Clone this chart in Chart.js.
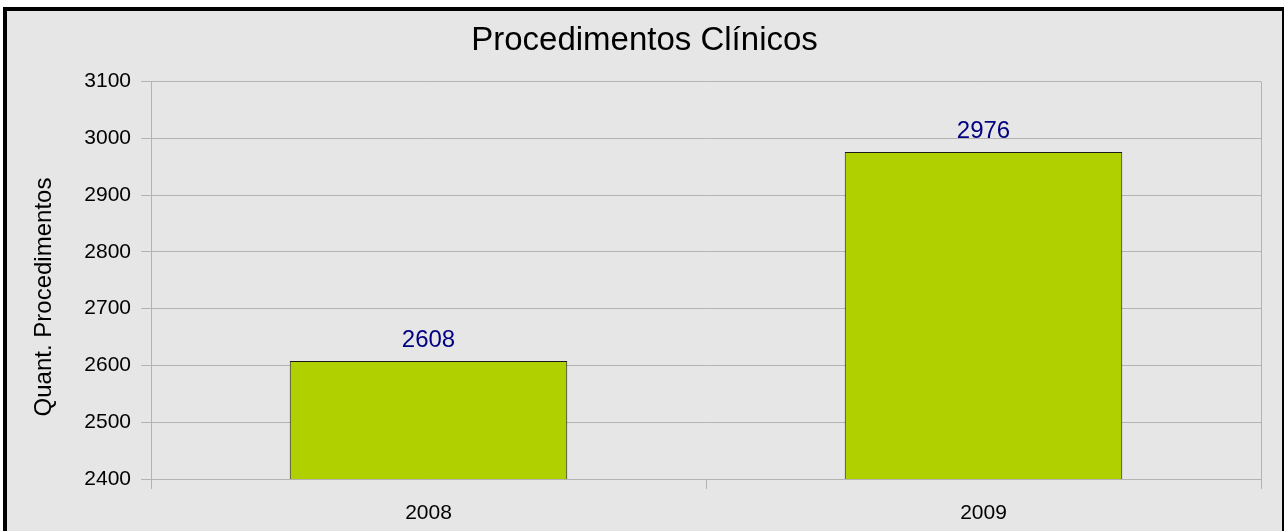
<!DOCTYPE html>
<html>
<head>
<meta charset="utf-8">
<title>Procedimentos Clínicos</title>
<script src="https://cdn.jsdelivr.net/npm/chart.js@4/dist/chart.umd.min.js"></script>
<style>
body{margin:0;background:#ffffff;overflow:hidden;}
#box{position:absolute;left:3px;top:7px;width:1275px;height:540px;border:4px solid #000;background:#e6e6e6;}
#myChart{display:block;}
</style>
</head>
<body>
<div id="box"><canvas id="myChart" width="1275" height="520"></canvas></div>
<script>
'use strict';
var years=['2008','2009'];
var procedures=[2608,2976];
var yMin=2400;
var yMax=3100;
var yStep=100;
var yAxisTitle='Quant. Procedimentos';
var fontName='"Liberation Sans", Arial, sans-serif';
var gridColor='#b3b3b3';

// value text over each bar
var barLabels={
  id:'barLabels',
  afterDatasetsDraw:function(chart){
    var ctx=chart.ctx;
    var meta=chart.getDatasetMeta(0);
    ctx.save();
    ctx.font='24px '+fontName;
    ctx.fillStyle='#000080';
    ctx.textAlign='center';
    ctx.textBaseline='alphabetic';
    for(var i=0;i<meta.data.length;i++){
      var bar=meta.data[i];
      ctx.fillText(String(chart.data.datasets[0].data[i]),bar.x,bar.y-14);
    }
    ctx.restore();
  }
};

// right edge of the plot frame + the y title (centred on the whole box, not the plot)
var frameRight={
  id:'frameRight',
  beforeDatasetsDraw:function(chart){
    var a=chart.chartArea;
    var ctx=chart.ctx;
    ctx.save();
    ctx.strokeStyle=gridColor;
    ctx.lineWidth=1;
    ctx.beginPath();
    ctx.moveTo(a.right+0.5,a.top);
    ctx.lineTo(a.right+0.5,a.bottom+10);
    ctx.stroke();
    ctx.translate(37,286);
    ctx.rotate(-Math.PI/2);
    ctx.font='24px '+fontName;
    ctx.fillStyle='#000';
    ctx.textAlign='center';
    ctx.textBaseline='middle';
    ctx.fillText(yAxisTitle,0,0);
    ctx.restore();
  }
};

var ctx=document.getElementById('myChart').getContext('2d');
var chart=new Chart(ctx,{
  type:'bar',
  data:{
    labels:years,
    datasets:[{
      label:'Procedimentos',
      data:procedures,
      backgroundColor:'#b0d000',
      borderColor:'#1a1a1a',
      borderWidth:1,
      barPercentage:1,
      categoryPercentage:0.5
    }]
  },
  options:{
    responsive:false,
    animation:false,
    devicePixelRatio:1,
    // same padding both sides so the title sits in the middle of the box
    layout:{padding:{left:21,right:21,top:0,bottom:0}},
    plugins:{
      legend:{display:false},
      tooltip:{enabled:false},
      title:{
        display:true,
        text:'Procedimentos Clínicos',
        color:'#000',
        font:{family:fontName,size:33,weight:'normal'},
        padding:{top:10,bottom:21}
      }
    },
    scales:{
      x:{
        afterFit:function(scale){scale.height=52;},
        grid:{display:true,offset:true,drawOnChartArea:false,drawTicks:true,tickLength:10,color:gridColor},
        border:{display:true,color:gridColor},
        ticks:{color:'#000',padding:12,font:{family:fontName,size:21}}
      },
      y:{
        min:yMin,
        max:yMax,
        afterFit:function(scale){scale.width=123;},
        grid:{color:gridColor,tickLength:10},
        border:{display:true,color:gridColor},
        ticks:{
          stepSize:yStep,
          color:'#000',
          padding:10,
          font:{family:fontName,size:21},
          callback:function(value){return String(value);}
        }
      }
    }
  },
  plugins:[barLabels,frameRight]
});
</script>
</body>
</html>
